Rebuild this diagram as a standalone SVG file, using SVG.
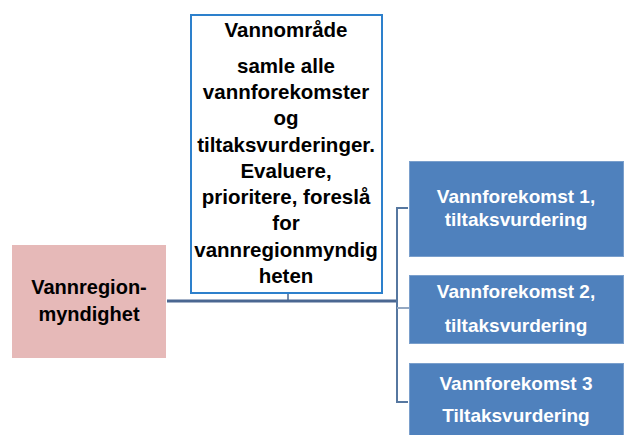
<svg xmlns="http://www.w3.org/2000/svg" width="626" height="435" viewBox="0 0 626 435">
<style>
.t{font-family:"Liberation Sans",Arial,sans-serif;font-weight:bold;text-anchor:middle}
.k{fill:#000;font-size:20.5px}
.w{fill:#fff;font-size:19px}
.blue{fill:#4f81bd;stroke:#7a9fcc;stroke-width:1}
</style>
<rect width="626" height="435" fill="#fff"/>
<g id="connectors" fill="none">
<line x1="167" y1="301" x2="397" y2="301" stroke="#4a6791" stroke-width="3"/>
<line x1="288" y1="294" x2="288" y2="301" stroke="#4a6791" stroke-width="1.5"/>
<polyline points="408,208 397,208 397,402 408,402" stroke="#5677a0" stroke-width="2"/>
<line x1="397" y1="308" x2="409" y2="308" stroke="#94a8c2" stroke-width="2"/>
</g>
<g id="vannregion">
<rect x="12" y="245" width="154" height="113" fill="#e6b9b8"/>
<text class="t k" x="89" y="294" style="font-size:20px">Vannregion-</text>
<text class="t k" x="89" y="321" style="font-size:20px">myndighet</text>
</g>
<g id="vannomrade">
<rect x="191" y="15" width="191" height="278" fill="#fff" stroke="#2d80cc" stroke-width="2"/>
<text class="t k" x="286" y="37">Vannområde</text>
<text class="t k" x="286" y="73">samle alle</text>
<text class="t k" x="286" y="99">vannforekomster</text>
<text class="t k" x="286" y="125">og</text>
<text class="t k" x="286" y="152">tiltaksvurderinger.</text>
<text class="t k" x="286" y="178">Evaluere,</text>
<text class="t k" x="286" y="204">prioritere,  foreslå</text>
<text class="t k" x="286" y="230">for</text>
<text class="t k" x="286" y="257">vannregionmyndig</text>
<text class="t k" x="286" y="283">heten</text>
</g>
<g id="vf1">
<rect class="blue" x="409.5" y="161.5" width="214" height="95"/>
<text class="t w" x="516" y="203">Vannforekomst 1,</text>
<text class="t w" x="516" y="226">tiltaksvurdering</text>
</g>
<g id="vf2">
<rect class="blue" x="409.5" y="275.5" width="214" height="68"/>
<text class="t w" x="516" y="298">Vannforekomst 2,</text>
<text class="t w" x="516" y="332">tiltaksvurdering</text>
</g>
<g id="vf3">
<rect class="blue" x="409.5" y="363.5" width="214" height="80"/>
<text class="t w" x="516" y="390">Vannforekomst 3</text>
<text class="t w" x="516" y="422">Tiltaksvurdering</text>
</g>
</svg>
